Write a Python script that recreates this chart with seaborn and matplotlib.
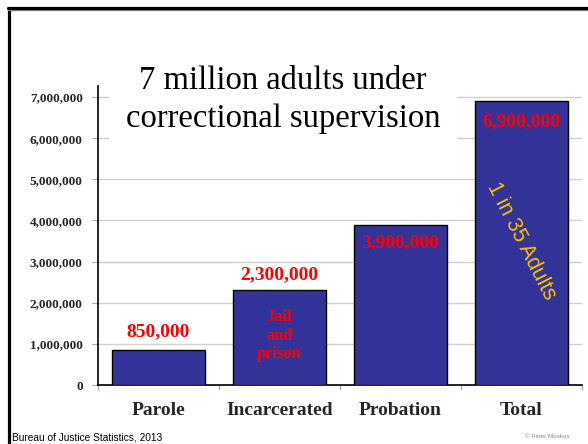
import matplotlib
matplotlib.use("Agg")
import matplotlib.pyplot as plt
import matplotlib.lines as mlines
import seaborn as sns
import pandas as pd

# Data
categories = ["Parole", "Incarcerated", "Probation", "Total"]
counts = [850000, 2300000, 3900000, 6900000]
value_labels = ["850,000", "2,300,000", "3,900,000", "6,900,000"]
# label offset in points: positive above the bar top, negative inside the bar
label_offsets = [13, 11, -13, -15]
y_ticks = [0, 1000000, 2000000, 3000000, 4000000, 5000000, 6000000, 7000000]
y_tick_labels = ["0", "1,000,000", "2,000,000", "3,000,000", "4,000,000",
                 "5,000,000", "6,000,000", "7,000,000"]

df = pd.DataFrame({"category": categories, "count": counts})

sns.set_style("white")
plt.rcParams["font.family"] = ["Liberation Serif", "DejaVu Serif"]

fig = plt.figure(figsize=(5.88, 4.44), dpi=100)
ax = fig.add_axes([98 / 588, 1 - 385 / 444, 484 / 588, 299 / 444])

sns.barplot(data=df, x="category", y="count", color="#333399", saturation=1,
            width=0.77, edgecolor="black", linewidth=1, ax=ax, zorder=3)

ax.set_xlim(-0.5, 3.5)
ax.set_ylim(0, 7.27e6)
ax.set_yticks(y_ticks)
ax.set_yticklabels(y_tick_labels, fontweight="bold", fontsize=9.5)
ax.set_xticks(range(len(categories)))
ax.set_xticklabels(categories, fontweight="bold", fontsize=14)
ax.set_xlabel("")
ax.set_ylabel("")

ax.grid(axis="y", color="#cfcfcf", linewidth=1, zorder=0)
ax.set_axisbelow(True)
for s in ["top", "right"]:
    ax.spines[s].set_visible(False)
for s in ["left", "bottom"]:
    ax.spines[s].set_color("black")
    ax.spines[s].set_linewidth(1.2)

ax.tick_params(axis="y", length=4, color="#aaaaaa", pad=7, left=True)
ax.tick_params(axis="x", length=0, pad=12, bottom=True)
# category boundary ticks along the baseline
for b in [-0.5, 0.5, 1.5, 2.5, 3.5]:
    ax.plot([b, b], [0, -0.012], transform=ax.get_xaxis_transform(),
            color="#aaaaaa", linewidth=1, clip_on=False)

# value labels
for i, (v, lab, off) in enumerate(zip(counts, value_labels, label_offsets)):
    ax.annotate(lab, xy=(i, v), xytext=(0, off), textcoords="offset points",
                ha="center", va="center", color="#ff0000", fontweight="bold",
                fontsize=14, zorder=5)

ax.text(1, 1.2e6, "Jail\nand\nprison", ha="center", va="center",
        color="#ff0000", fontweight="bold", fontsize=12, linespacing=1.2,
        zorder=5)

ax.text(3, 3.5e6, "1 in 35 Adults", ha="center", va="center", rotation=-63,
        rotation_mode="anchor", color="#f5c000", fontsize=15.5,
        family=["Liberation Sans", "DejaVu Sans"], zorder=5)

# title block with white background
fig.text(283 / 588, 1 - 99.5 / 444, "7 million adults under\ncorrectional supervision",
         ha="center", va="center", fontsize=23.5, linespacing=1.3, color="black",
         bbox=dict(boxstyle="square,pad=0.5", facecolor="white", edgecolor="none"))

# footer texts
fig.text(12 / 588, 1 - 432 / 444, "Bureau of Justice Statistics, 2013",
         ha="left", va="top", fontsize=7.3,
         family=["Liberation Sans", "DejaVu Sans"], color="black")
fig.text(570 / 588, 1 - 434 / 444, "© Peter Moskos", ha="right", va="top",
         fontsize=4.5, family=["Liberation Sans", "DejaVu Sans"], color="#888888")

# slide frame on the left and top edges
fig.add_artist(mlines.Line2D([8.5 / 588, 8.5 / 588], [0, 1 - 8 / 444],
                             color="black", linewidth=2.3, transform=fig.transFigure))
fig.add_artist(mlines.Line2D([8 / 588, 1], [1 - 10.5 / 444, 1 - 10.5 / 444],
                             color="#888888", linewidth=1.0, transform=fig.transFigure))
fig.add_artist(mlines.Line2D([7.5 / 588, 1], [1 - 8.5 / 444, 1 - 8.5 / 444],
                             color="black", linewidth=2.3, transform=fig.transFigure))

fig.savefig("out.png", dpi=100)
